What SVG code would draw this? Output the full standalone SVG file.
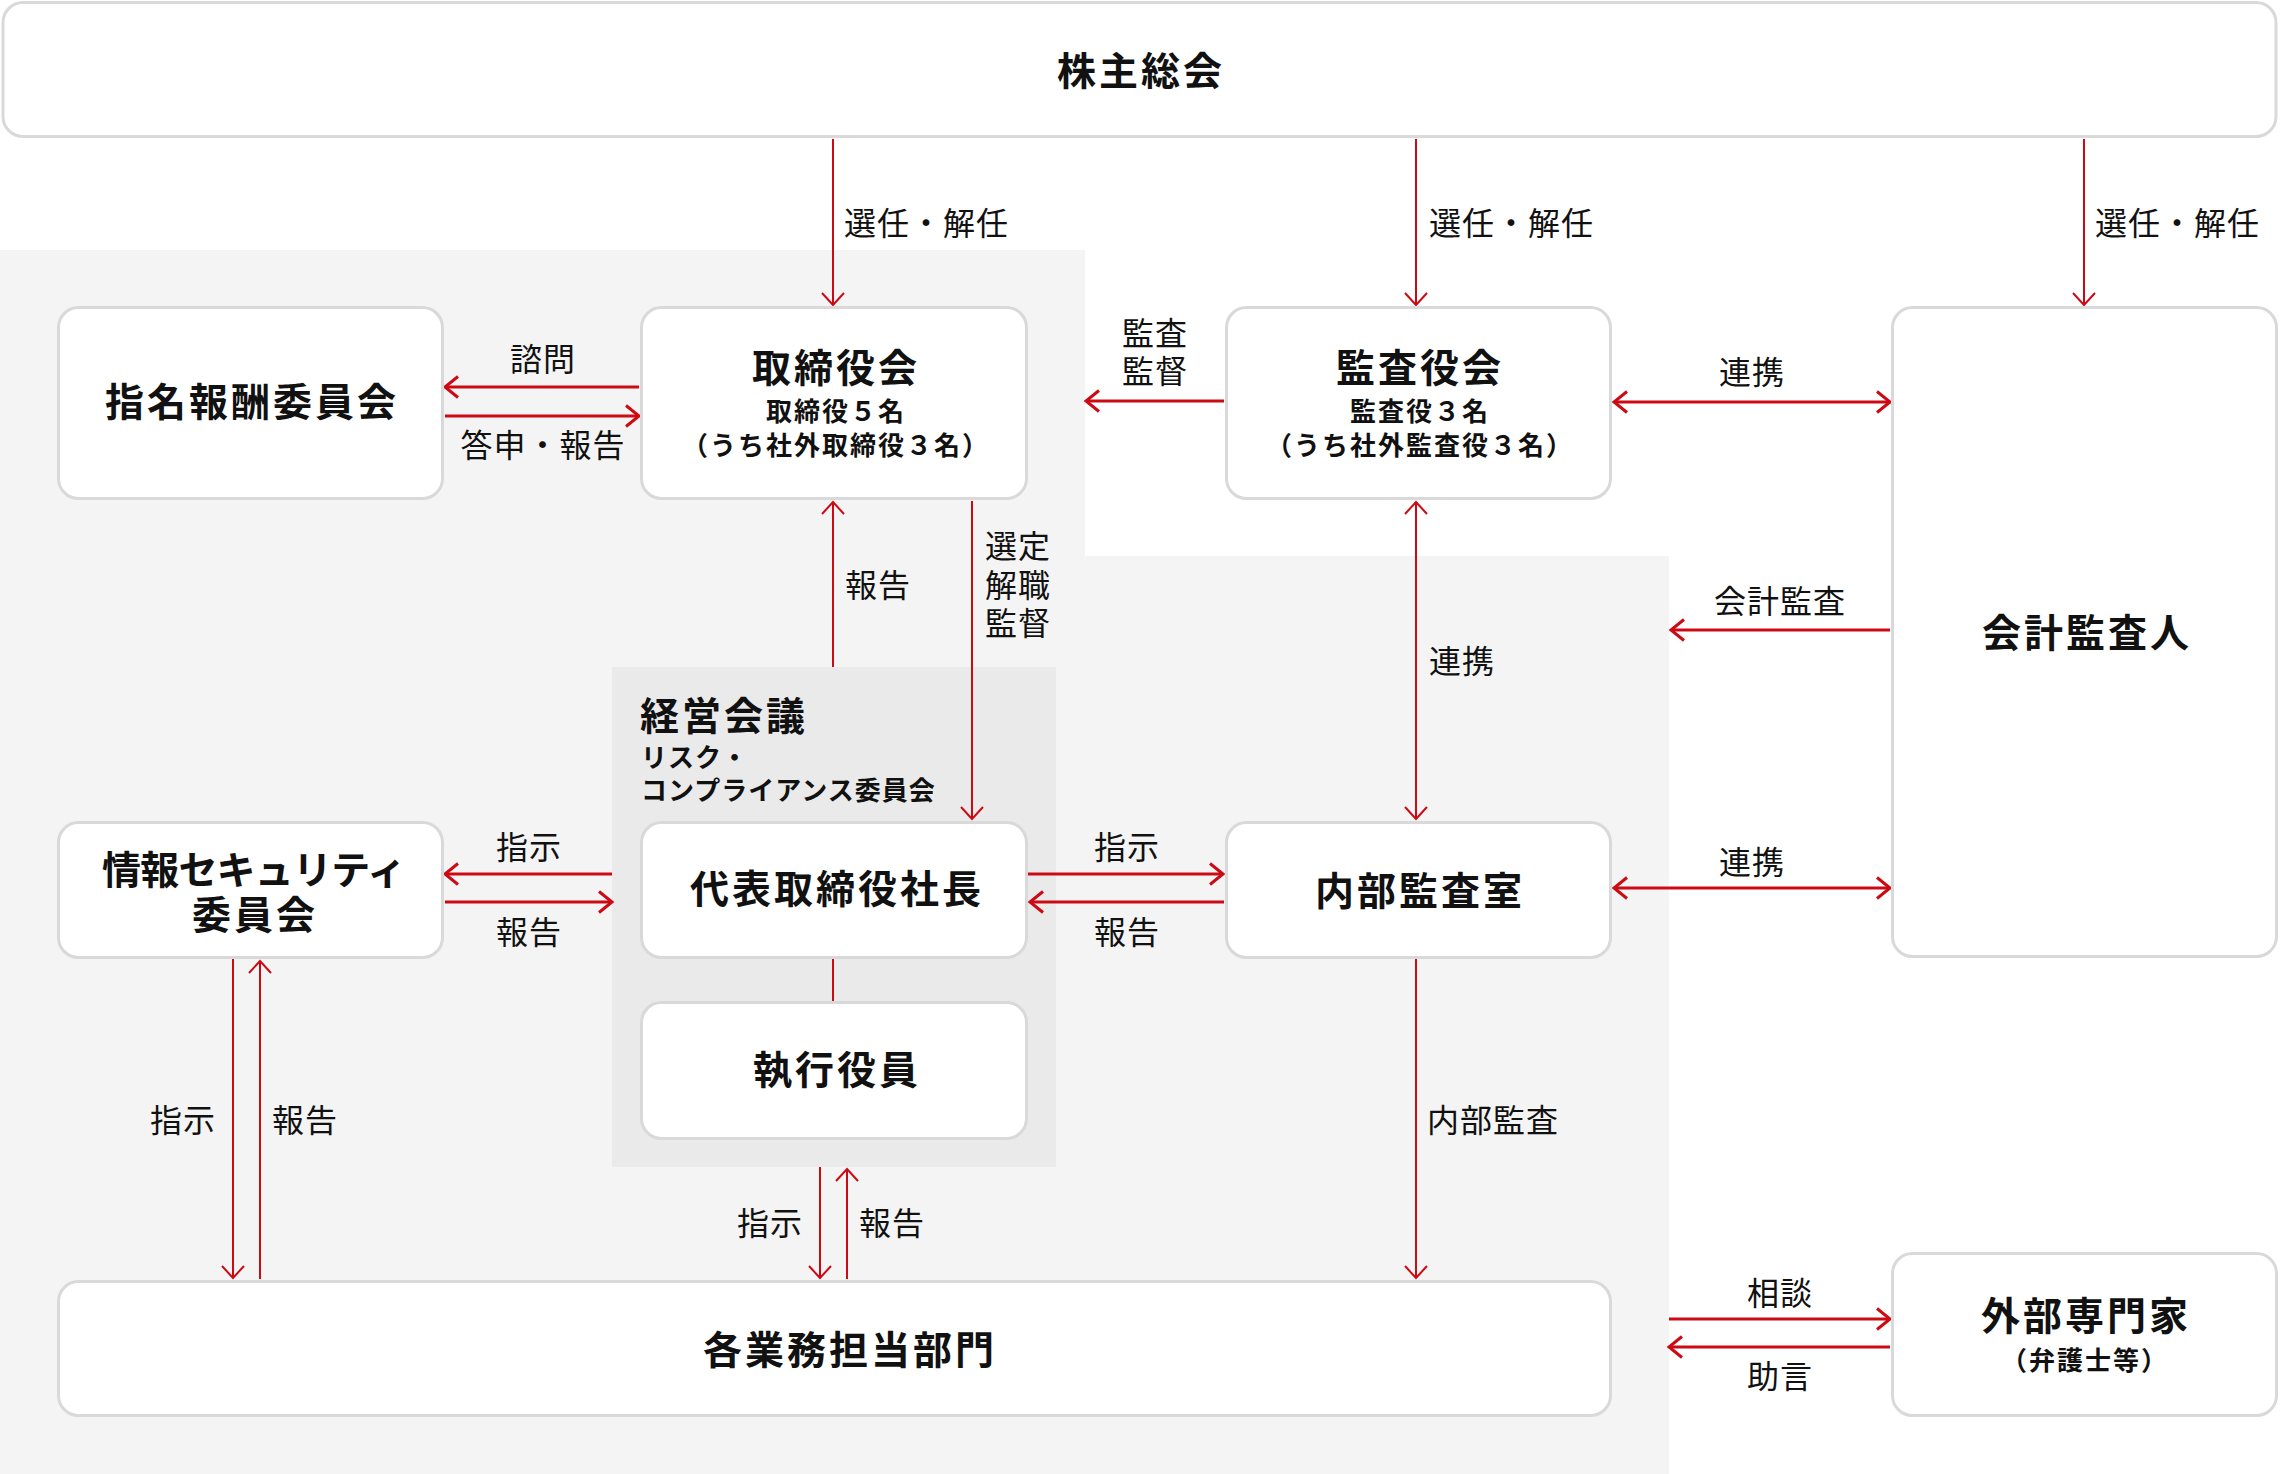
<svg xmlns="http://www.w3.org/2000/svg" width="2280" height="1474" viewBox="0 0 2280 1474">
<style>
text{font-family:"Noto Sans CJK JP","Noto Sans CJK SC",sans-serif;fill:#111}
.t{font-size:39px;font-weight:700;letter-spacing:3px;text-anchor:middle}
.s{font-size:26px;font-weight:700;letter-spacing:2px;text-anchor:middle}
.sl{font-size:26px;font-weight:700;letter-spacing:1px}
.l{font-size:32px;font-weight:400;letter-spacing:1px}
.c{text-anchor:middle}
.node{fill:#fff;stroke:#d9d9d9;stroke-width:3}
.v{stroke:#cc0a14;stroke-width:2;fill:none}
.h{stroke:#cc0a14;stroke-width:3;fill:none}
</style>
<defs>
<marker id="aV" markerUnits="userSpaceOnUse" viewBox="-16 -16 20 32" refX="0" refY="0" markerWidth="20" markerHeight="32" orient="auto-start-reverse" overflow="visible">
<path d="M-12,-11 L0,0 L-12,11" fill="none" stroke="#cc0a14" stroke-width="2"/>
</marker>
<marker id="aH" markerUnits="userSpaceOnUse" viewBox="-16 -16 20 32" refX="0" refY="0" markerWidth="20" markerHeight="32" orient="auto-start-reverse" overflow="visible">
<path d="M-13,-10.5 L0,0 L-13,10.5" fill="none" stroke="#cc0a14" stroke-width="3"/>
</marker>
</defs>
<rect width="2280" height="1474" fill="#fff"/>
<path d="M0,250 H1085 V556 H1669 V1474 H0 Z" fill="#f4f4f4"/>

<g id="keiei-kaigi">
<rect x="612" y="667" width="444" height="500" fill="#eaeaea"/>
<text class="t" x="640" y="730" style="text-anchor:start">経営会議</text>
<text class="sl" x="641" y="767">リスク・</text>
<text class="sl" x="641" y="800">コンプライアンス委員会</text>
</g>

<g id="connectors">
<g id="c-sennin1"><line class="v" x1="833" y1="139" x2="833" y2="305" marker-end="url(#aV)"/><text class="l" x="844" y="235">選任・解任</text></g>
<g id="c-sennin2"><line class="v" x1="1416" y1="139" x2="1416" y2="305" marker-end="url(#aV)"/><text class="l" x="1429" y="235">選任・解任</text></g>
<g id="c-sennin3"><line class="v" x1="2084" y1="139" x2="2084" y2="305" marker-end="url(#aV)"/><text class="l" x="2095" y="235">選任・解任</text></g>
<g id="c-shimon"><line class="h" x1="639" y1="387" x2="445" y2="387" marker-end="url(#aH)"/><text class="l c" x="543" y="371">諮問</text></g>
<g id="c-toushin"><line class="h" x1="445" y1="416" x2="639" y2="416" marker-end="url(#aH)"/><text class="l c" x="543" y="457">答申・報告</text></g>
<g id="c-kansa"><line class="h" x1="1224" y1="401" x2="1086" y2="401" marker-end="url(#aH)"/><text class="l c" x="1155" y="345">監査</text><text class="l c" x="1155" y="383">監督</text></g>
<g id="c-renkei1"><line class="h" x1="1614" y1="402" x2="1890" y2="402" marker-start="url(#aH)" marker-end="url(#aH)"/><text class="l c" x="1752" y="384">連携</text></g>
<g id="c-hokoku-top"><line class="v" x1="833" y1="667" x2="833" y2="502" marker-end="url(#aV)"/><text class="l" x="845" y="597">報告</text></g>
<g id="c-sentei"><line class="v" x1="972" y1="501" x2="972" y2="819" marker-end="url(#aV)"/><text class="l" x="985" y="558">選定</text><text class="l" x="985" y="597">解職</text><text class="l" x="985" y="635">監督</text></g>
<g id="c-renkei-v"><line class="v" x1="1416" y1="502" x2="1416" y2="819" marker-start="url(#aV)" marker-end="url(#aV)"/><text class="l" x="1429" y="673">連携</text></g>
<g id="c-kaikei"><line class="h" x1="1890" y1="630" x2="1671" y2="630" marker-end="url(#aH)"/><text class="l c" x="1780" y="613">会計監査</text></g>
<g id="c-shiji-l"><line class="h" x1="612" y1="874" x2="445" y2="874" marker-end="url(#aH)"/><text class="l c" x="529" y="859">指示</text></g>
<g id="c-hokoku-l"><line class="h" x1="445" y1="902" x2="612" y2="902" marker-end="url(#aH)"/><text class="l c" x="529" y="944">報告</text></g>
<g id="c-shiji-r"><line class="h" x1="1028" y1="874" x2="1223" y2="874" marker-end="url(#aH)"/><text class="l c" x="1127" y="859">指示</text></g>
<g id="c-hokoku-r"><line class="h" x1="1224" y1="902" x2="1030" y2="902" marker-end="url(#aH)"/><text class="l c" x="1127" y="944">報告</text></g>
<g id="c-renkei2"><line class="h" x1="1614" y1="888" x2="1890" y2="888" marker-start="url(#aH)" marker-end="url(#aH)"/><text class="l c" x="1752" y="874">連携</text></g>
<g id="c-pres-exec"><line class="v" x1="833" y1="958" x2="833" y2="1002"/></g>
<g id="c-shiji-ll"><line class="v" x1="233" y1="959" x2="233" y2="1278" marker-end="url(#aV)"/><text class="l c" x="183" y="1132">指示</text></g>
<g id="c-hokoku-ll"><line class="v" x1="260" y1="1279" x2="260" y2="961" marker-end="url(#aV)"/><text class="l c" x="305" y="1132">報告</text></g>
<g id="c-shiji-c"><line class="v" x1="820" y1="1167" x2="820" y2="1278" marker-end="url(#aV)"/><text class="l c" x="770" y="1235">指示</text></g>
<g id="c-hokoku-c"><line class="v" x1="847" y1="1279" x2="847" y2="1169" marker-end="url(#aV)"/><text class="l c" x="892" y="1235">報告</text></g>
<g id="c-naibu"><line class="v" x1="1416" y1="959" x2="1416" y2="1278" marker-end="url(#aV)"/><text class="l" x="1427" y="1132">内部監査</text></g>
<g id="c-soudan"><line class="h" x1="1669" y1="1319" x2="1890" y2="1319" marker-end="url(#aH)"/><text class="l c" x="1780" y="1305">相談</text></g>
<g id="c-jogen"><line class="h" x1="1890" y1="1347" x2="1669" y2="1347" marker-end="url(#aH)"/><text class="l c" x="1780" y="1388">助言</text></g>
</g>

<g id="kabunushi-soukai"><rect class="node" x="3" y="2.5" width="2273" height="134" rx="20"/><text class="t" x="1141" y="85">株主総会</text></g>
<g id="shimei-houshu"><rect class="node" x="58.5" y="307.5" width="384" height="191" rx="20"/><text class="t" x="252" y="416">指名報酬委員会</text></g>
<g id="torishimariyakukai"><rect class="node" x="641.5" y="307.5" width="385" height="191" rx="20"/><text class="t" x="836" y="382">取締役会</text><text class="s" x="836" y="421">取締役５名</text><text class="s" x="836" y="455">（うち社外取締役３名）</text></g>
<g id="kansayakukai"><rect class="node" x="1226.5" y="307.5" width="384" height="191" rx="20"/><text class="t" x="1420" y="382">監査役会</text><text class="s" x="1420" y="421">監査役３名</text><text class="s" x="1420" y="455">（うち社外監査役３名）</text></g>
<g id="kaikei-kansanin"><rect class="node" x="1892.5" y="307.5" width="384" height="649" rx="20"/><text class="t" x="2087" y="647">会計監査人</text></g>
<g id="joho-security"><rect class="node" x="58.5" y="822.5" width="384" height="135" rx="20"/><text class="t" x="254" y="884" style="letter-spacing:0" textLength="304" lengthAdjust="spacing">情報セキュリティ</text><text class="t" x="255" y="929">委員会</text></g>
<g id="daihyo"><rect class="node" x="641.5" y="822.5" width="385" height="135" rx="20"/><text class="t" x="837" y="903">代表取締役社長</text></g>
<g id="naibu-kansashitsu"><rect class="node" x="1226.5" y="822.5" width="384" height="135" rx="20"/><text class="t" x="1420" y="905">内部監査室</text></g>
<g id="shikko-yakuin"><rect class="node" x="641.5" y="1002.5" width="385" height="136" rx="20"/><text class="t" x="837" y="1084">執行役員</text></g>
<g id="kakugyomu"><rect class="node" x="58.5" y="1281.5" width="1552" height="134" rx="20"/><text class="t" x="850" y="1364">各業務担当部門</text></g>
<g id="gaibu-senmonka"><rect class="node" x="1892.5" y="1253.5" width="384" height="162" rx="20"/><text class="t" x="2086" y="1330">外部専門家</text><text class="s" x="2085" y="1370">（弁護士等）</text></g>
</svg>
